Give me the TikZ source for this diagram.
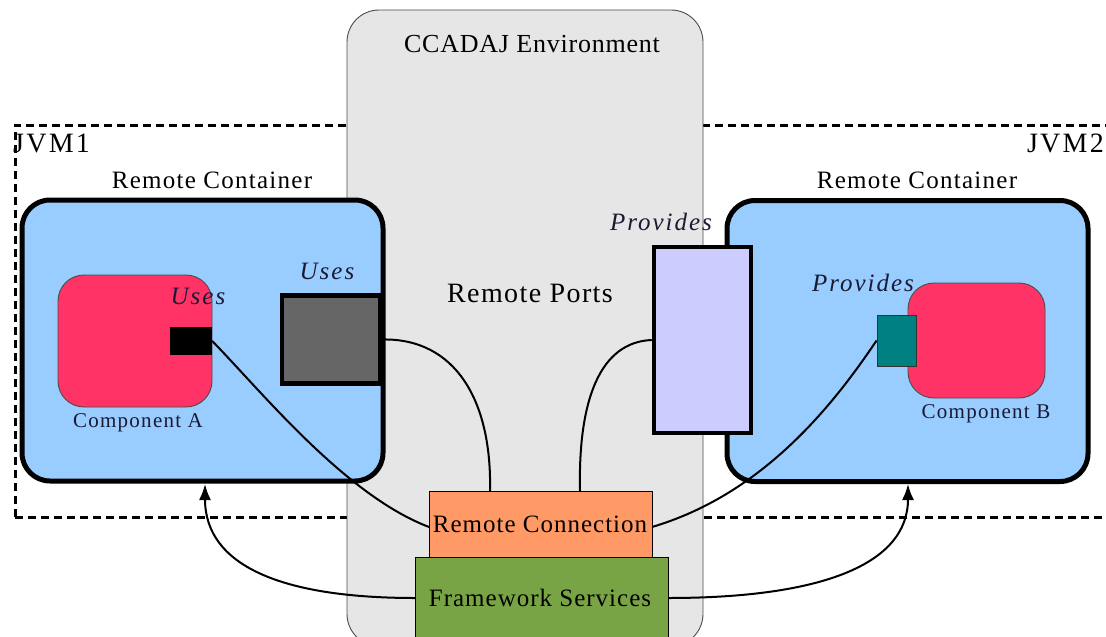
\documentclass[tikz,border=0pt]{standalone}
\usepackage{fontspec}
\setmainfont{Liberation Serif}
\usetikzlibrary{arrows.meta}
\definecolor{envgray}{HTML}{E6E6E6}
\definecolor{contblue}{HTML}{99CCFF}
\definecolor{comppink}{HTML}{FF3366}
\definecolor{portgray}{HTML}{666666}
\definecolor{portlav}{HTML}{CCCCFF}
\definecolor{portteal}{HTML}{008080}
\definecolor{rcorange}{HTML}{FF9966}
\definecolor{fsgreen}{HTML}{78A446}
\definecolor{labnavy}{HTML}{1A1A33}
\tikzset{
  container/.style={draw=black, line width=5pt, fill=contblue, rounded corners=28pt, minimum width=361pt, minimum height=281pt},
  compbox/.style={draw=black!70, line width=0.9pt, fill=comppink, rounded corners=26pt},
  thickport/.style={draw=black, line width=4.5pt},
  thinbox/.style={draw=black, line width=0.9pt},
  conn/.style={line width=2pt, black},
  svcarrow/.style={line width=2pt, black, -{Latex[length=16pt,width=12pt]}},
  lab/.style={inner sep=0pt, text=black},
  itallab/.style={inner sep=0pt, text=labnavy, font=\fontsize{25}{27}\selectfont\itshape\addfontfeature{LetterSpace=8}},
}
\begin{document}
\begin{tikzpicture}[x=1pt,y=-1pt]
\useasboundingbox (0,0) rectangle (1106,637);
\fill[white] (0,0) rectangle (1106,637);
% JVM dashed boundary
\draw[line width=3pt, dash pattern=on 8pt off 5pt] (15,517) -- (15,125) -- (1125,125);
\draw[line width=3pt, dash pattern=on 8pt off 5pt] (15,517) -- (1125,517);
% environment
\node[draw=black!70, line width=0.9pt, fill=envgray, rounded corners=32pt, minimum width=356pt, minimum height=636pt, inner sep=0pt] (env) at (525,328) {};
\node[lab, font=\fontsize{26}{28}\selectfont\addfontfeature{LetterSpace=3}] (envlab) at (532,44) {CCADAJ Environment};
\node[lab, anchor=west, font=\fontsize{28}{30}\selectfont\addfontfeature{LetterSpace=8}] (jvm1) at (13,143) {JVM1};
\node[lab, anchor=east, font=\fontsize{28}{30}\selectfont\addfontfeature{LetterSpace=8}] (jvm2) at (1104,143) {JVM2};
% containers
\node[container] (lc) at (202.5,340.5) {};
\node[container] (rc) at (907.5,341) {};
\node[lab, font=\fontsize{25}{27}\selectfont\addfontfeature{LetterSpace=5}] (lclab) at (212,180) {Remote Container};
\node[lab, font=\fontsize{25}{27}\selectfont\addfontfeature{LetterSpace=5}] (rclab) at (917,180) {Remote Container};
% components
\node[compbox, minimum width=154pt, minimum height=132pt] (ca) at (135,341) {};
\node[compbox, minimum width=137pt, minimum height=115pt] (cb) at (976.5,340.5) {};
\node[lab, text=labnavy, font=\fontsize{21}{23}\selectfont\addfontfeature{LetterSpace=6}] (calab) at (138,423) {Component A};
\node[lab, text=labnavy, font=\fontsize{21}{23}\selectfont\addfontfeature{LetterSpace=6}] (cblab) at (986,414) {Component B};
% ports
\node[fill=black, minimum width=42pt, minimum height=28pt, inner sep=0pt] (pa) at (191,341) {};
\node[thickport, fill=portgray, minimum width=98pt, minimum height=88pt, inner sep=0pt] (pg) at (331,339.5) {};
\node[thickport, fill=portlav, minimum width=97pt, minimum height=186pt, inner sep=0pt] (pl) at (702.5,340) {};
\node[draw=black!80, line width=0.9pt, fill=portteal, minimum width=39pt, minimum height=51pt, inner sep=0pt] (pt) at (896.5,340.5) {};
\node[itallab] (usesa) at (198,296) {Uses};
\node[itallab] (usesg) at (327,271) {Uses};
\node[itallab] (provl) at (661,222) {Provides};
\node[itallab] (provt) at (863,283) {Provides};
\node[lab, font=\fontsize{28}{30}\selectfont\addfontfeature{LetterSpace=5}] (ports) at (530,293) {Remote Ports};
% connection points
\coordinate (rcW) at (429,527);
\coordinate (rcNW) at (490,491);
\coordinate (rcNE) at (580,491);
\coordinate (rcE) at (652,527);
\coordinate (fsW) at (415,598);
\coordinate (fsE) at (668,598);
\coordinate (lcS) at (205,484);
\coordinate (rcS) at (908,484);
% connectors
\draw[conn] (pa.east) .. controls (262,392) and (345,495) .. (rcW);
\draw[conn] (pg.east) .. controls (455,338) and (492,400) .. (rcNW);
\draw[conn] (pl.west) .. controls (600,342) and (578,400) .. (rcNE);
\draw[conn] (pt.west) .. controls (830,410) and (760,495) .. (rcE);
% remote connection & framework services
\node[thinbox, fill=rcorange, minimum width=223pt, minimum height=66pt, inner sep=0pt] (rconn) at (540.5,524) {};
\node[lab, font=\fontsize{25}{27}\selectfont\addfontfeature{LetterSpace=4}] (rconnlab) at (540,524) {Remote Connection};
\node[thinbox, fill=fsgreen, minimum width=253pt, minimum height=86pt, inner sep=0pt] (fs) at (541.5,600) {};
\node[lab, font=\fontsize{25}{27}\selectfont\addfontfeature{LetterSpace=4}] (fslab) at (540,598) {Framework Services};
% service arrows
\draw[svcarrow] (fsW) .. controls (280,598) and (205,565) .. (lcS);
\draw[svcarrow] (fsE) .. controls (820,598) and (908,565) .. (rcS);
\end{tikzpicture}
\end{document}
